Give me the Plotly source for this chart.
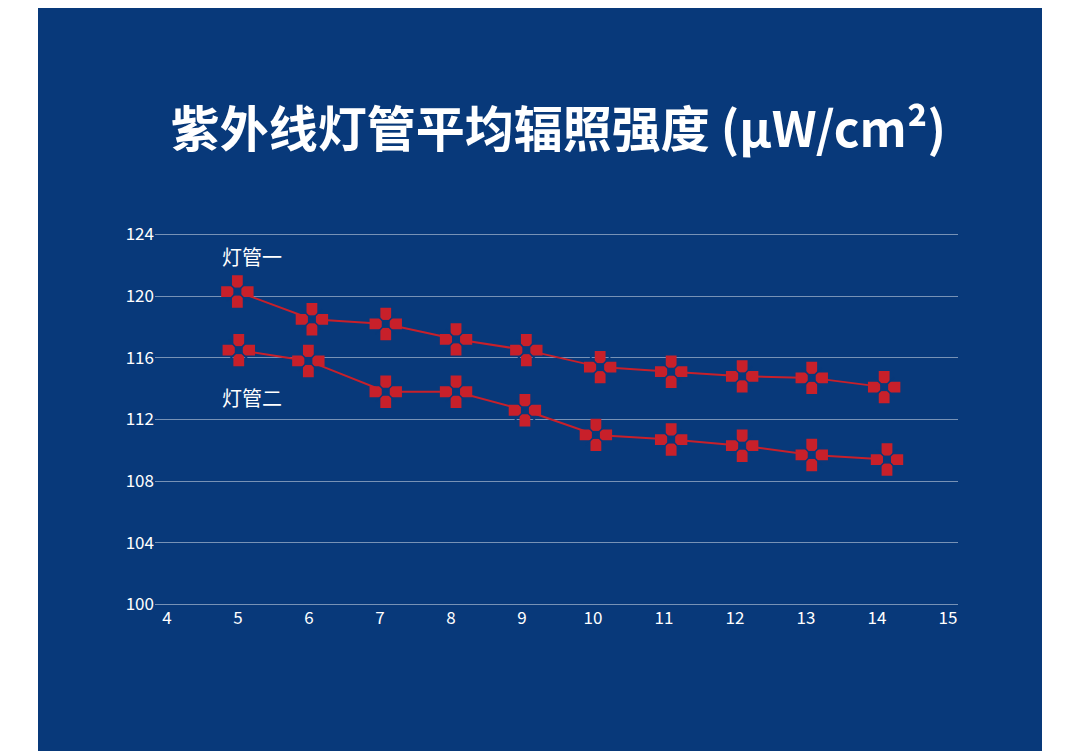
import plotly.graph_objects as go

x1 = [4.99, 6.04, 7.08, 8.07, 9.06, 10.1, 11.1, 12.1, 13.08, 14.1]
y1 = [120.3, 118.5, 118.2, 117.2, 116.5, 115.4, 115.1, 114.8, 114.7, 114.1]
x2 = [5.01, 5.99, 7.08, 8.07, 9.04, 10.04, 11.1, 12.1, 13.08, 14.14]
y2 = [116.5, 115.8, 113.8, 113.8, 112.6, 111.0, 110.7, 110.3, 109.7, 109.4]
names = ["灯管一", "灯管二"]

BG = "#08397a"
RED = "#c8202a"
OFF = 8  # page margin of the browser
W, H = 1081 - OFF, 751 - OFF
L, R, T, B = 155 - OFF, 123, 233 - OFF, 145
pw, ph = W - L - R, H - T - B

fig = go.Figure()
for xs, ys, nm in [(x1, y1, names[0]), (x2, y2, names[1])]:
    fig.add_trace(go.Scatter(x=xs, y=ys, mode="lines+markers", name=nm,
                             line=dict(color=RED, width=2),
                             marker=dict(symbol="cross", size=27, color=RED, line=dict(width=0))))
    # hollow centre and split the arms into four squares
    fig.add_trace(go.Scatter(x=xs, y=ys, mode="markers", showlegend=False, hoverinfo="skip",
                             marker=dict(symbol="square", size=8, color=BG, line=dict(width=0))))
    fig.add_trace(go.Scatter(x=xs, y=ys, mode="markers", showlegend=False, hoverinfo="skip",
                             marker=dict(symbol="x-thin", size=20, color=BG,
                                         line=dict(width=1.5, color=BG))))

fig.add_shape(type="rect", xref="paper", yref="paper", layer="below",
              x0=(38 - OFF - L) / pw, x1=(1042 - OFF - L) / pw, y0=-B / ph, y1=1 + T / ph,
              fillcolor=BG, line=dict(width=0))

fig.add_annotation(x=5.2, y=122.6, text=names[0], showarrow=False,
                   font=dict(color="white", size=20))
fig.add_annotation(x=5.2, y=113.4, text=names[1], showarrow=False,
                   font=dict(color="white", size=20))

fig.update_layout(
    width=W, height=H, margin=dict(l=L, r=R, t=T, b=B),
    paper_bgcolor="white", plot_bgcolor=BG, showlegend=False,
    font=dict(family="Noto Sans CJK SC", color="white", size=17),
    title=dict(text="<b>紫外线灯管平均辐照强度 (µW/cm²)</b>", x=(547 - OFF) / W, xref="paper",
               xanchor="center", y=1 - (130 - OFF) / H, yanchor="middle",
               font=dict(size=49, color="white")),
)
fig.update_xaxes(range=[3.83, 15.14], tickvals=list(range(4, 16)), showgrid=False,
                 zeroline=False, ticks="", tickfont=dict(size=17, color="white"))
fig.update_yaxes(range=[99.9, 124.1], tickvals=list(range(100, 125, 4)), showgrid=True,
                 gridcolor="rgba(255,255,255,0.45)", gridwidth=1, zeroline=False,
                 ticks="", tickfont=dict(size=17, color="white"))

fig.write_html("out.html")
